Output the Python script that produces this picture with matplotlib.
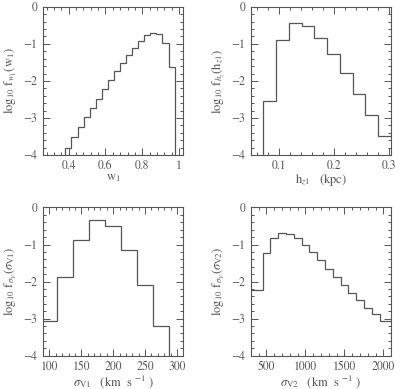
import numpy as np
import matplotlib
matplotlib.use('Agg')
import matplotlib.pyplot as plt
from matplotlib.ticker import MultipleLocator, FormatStrFormatter

plt.rcParams['font.family'] = 'STIXGeneral'
plt.rcParams['mathtext.fontset'] = 'stix'

# panel 1: w1
w1_edges = [0.382, 0.415, 0.448, 0.481, 0.514, 0.547, 0.580, 0.613, 0.646, 0.679,
            0.712, 0.745, 0.778, 0.811, 0.844, 0.877, 0.910, 0.943, 0.976]
w1_logf = [-3.80, -3.51, -3.24, -2.98, -2.72, -2.48, -2.23, -1.98, -1.74,
           -1.53, -1.30, -1.10, -0.91, -0.77, -0.71, -0.74, -0.97, -1.62]

# panel 2: hz1 (kpc)
hz_edges = [0.0715, 0.0947, 0.1179, 0.1411, 0.1643, 0.1875, 0.2107, 0.2339,
            0.2571, 0.2803, 0.31]
hz_logf = [-2.53, -0.89, -0.45, -0.52, -0.84, -1.28, -1.78, -2.35, -2.92, -3.50]

# panel 3: sigma_V1 (km/s)
sv1_edges = [87.5, 112.5, 137.5, 162.5, 187.5, 212.5, 237.5, 262.5, 287.5]
sv1_logf = [-3.07, -1.88, -0.89, -0.34, -0.49, -1.15, -2.09, -3.20]

# panel 4: sigma_V2 (km/s)
sv2_edges = [250, 450, 550, 650, 750, 850, 950, 1050, 1150, 1250, 1350, 1450,
             1550, 1650, 1750, 1850, 1950, 2200]
sv2_logf = [-2.23, -1.23, -0.83, -0.70, -0.72, -0.83, -1.00, -1.20, -1.42,
            -1.65, -1.88, -2.10, -2.30, -2.50, -2.70, -2.88, -3.07]

col = '#555555'
fig = plt.figure(figsize=(4.0, 3.89), dpi=100)

panels = [
    # rect, edges, vals, xlim, major, minor, xlabel, ylabel
    ([0.1075, 0.6015, 0.351, 0.381], w1_edges, w1_logf, (0.26, 1.024), 0.2, 0.04,
     r'w$_1$', r'log$_{10}$ f$_{w_1}$(w$_1$)'),
    ([0.627, 0.6015, 0.351, 0.381], hz_edges, hz_logf, (0.049, 0.304), 0.1, 0.02,
     r'h$_{z1}$   (kpc)', r'log$_{10}$ f$_{h_z}$(h$_{z1}$)'),
    ([0.1075, 0.0856, 0.351, 0.381], sv1_edges, sv1_logf, (90, 310), 50, 10,
     r'$\sigma_{\rm V1}$   (km  s $^{-1}$ )', r'log$_{10}$ f$_{\sigma_V}$($\sigma_{\rm V1}$)'),
    ([0.627, 0.0856, 0.351, 0.381], sv2_edges, sv2_logf, (300, 2100), 500, 100,
     r'$\sigma_{\rm V2}$   (km  s $^{-1}$ )', r'log$_{10}$ f$_{\sigma_V}$($\sigma_{\rm V2}$)'),
]

for rect, edges, vals, xlim, major, minor, xl, yl in panels:
    ax = fig.add_axes(rect)
    ax.stairs(vals, edges, baseline=-4, color=col, lw=0.9)
    ax.set_xlim(*xlim)
    ax.set_ylim(-4, 0)
    ax.xaxis.set_major_locator(MultipleLocator(major))
    ax.xaxis.set_minor_locator(MultipleLocator(minor))
    ax.xaxis.set_major_formatter(FormatStrFormatter('%g'))
    ax.yaxis.set_major_locator(MultipleLocator(1))
    ax.yaxis.set_minor_locator(MultipleLocator(0.2))
    ax.tick_params(which='both', direction='in', top=True, right=True,
                   colors=col, labelsize=8.5, width=0.7)
    ax.tick_params(which='major', length=5, pad=4)
    ax.tick_params(which='minor', length=2.5)
    for s in ax.spines.values():
        s.set_color(col)
        s.set_linewidth(0.8)
    ax.set_xlabel(xl, fontsize=9, color=col, labelpad=0)
    ax.set_ylabel(yl, fontsize=9, color=col, labelpad=3)

fig.savefig('out.png', dpi=100)
